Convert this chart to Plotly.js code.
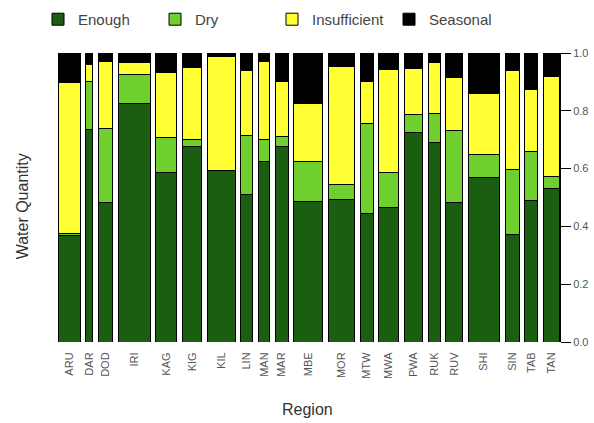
<!DOCTYPE html>
<html><head><meta charset="utf-8">
<script src="https://cdn.plot.ly/plotly-3.0.1.min.js"></script>
<style>html,body{margin:0;padding:0;background:#fff}</style>
</head><body><div id="chart" style="width:594px;height:423px"></div>
<script>
// Regions and relative sample sizes (bar widths)
const regions = ["ARU","DAR","DOD","IRI","KAG","KIG","KIL","LIN","MAN","MAR","MBE","MOR","MTW","MWA","PWA","RUK","RUV","SHI","SIN","TAB","TAN"];
const sampleSize = [22,7,14,32,21,19,28,12,11,13,29,26,13,20,18,12,17,31,14,13,16];
// Proportions per category
const enough       = [0.370,0.734,0.484,0.825,0.586,0.676,0.594,0.510,0.624,0.678,0.486,0.493,0.443,0.465,0.725,0.692,0.482,0.569,0.373,0.488,0.531];
const dry          = [0.005,0.169,0.254,0.101,0.121,0.025,0.000,0.203,0.075,0.033,0.137,0.053,0.314,0.121,0.063,0.099,0.251,0.081,0.225,0.171,0.043];
const insufficient = [0.523,0.058,0.234,0.041,0.225,0.248,0.393,0.228,0.270,0.192,0.202,0.406,0.143,0.358,0.158,0.176,0.182,0.210,0.340,0.213,0.346];
const seasonal     = [0.102,0.039,0.028,0.033,0.068,0.051,0.013,0.059,0.031,0.097,0.175,0.048,0.100,0.056,0.054,0.033,0.085,0.140,0.062,0.128,0.080];
const yTickVals = [0,0.2,0.4,0.6,0.8,1.0];
const seriesNames = ["Enough","Dry","Insufficient","Seasonal"];
const seriesColors = ["#1b5e12","#6fcf2e","#ffff33","#000000"];

// Layout constants
const gap = 5.65;
const leftPad = 3.3, rightPad = 0.7;

const centers = [];
let pos = 0;
sampleSize.forEach((w, i) => {
  centers.push(pos + w / 2);
  pos += w + gap;
});
const xEnd = pos - gap;

const seriesData = [enough, dry, insufficient, seasonal];
const traces = seriesData.map((vals, k) => ({
  type: "bar",
  name: seriesNames[k],
  x: centers,
  y: vals,
  width: sampleSize,
  marker: {color: seriesColors[k], line: {color: "#000", width: 1}},
  hoverinfo: "skip"
}));

const font = "Liberation Sans, Arial, Helvetica, sans-serif";
const layout = {
  width: 594, height: 423,
  margin: {l: 55, r: 34, t: 53, b: 81, pad: 0},
  barmode: "stack",
  bargap: 0,
  paper_bgcolor: "#fff", plot_bgcolor: "#fff",
  font: {family: font, color: "#333"},
  showlegend: true,
  legend: {
    orientation: "h", xref: "container", yref: "container",
    x: 0.064, y: 0.993, xanchor: "left", yanchor: "top",
    entrywidth: 72, traceorder: "normal",
    font: {family: font, size: 15, color: "#444"}
  },
  xaxis: {
    range: [-leftPad, xEnd + rightPad],
    tickmode: "array", tickvals: centers, ticktext: regions,
    tickangle: -90, ticks: "outside", ticklen: 5, tickcolor: "rgba(0,0,0,0)",
    tickfont: {family: font, size: 11, color: "#555"},
    showline: false, showgrid: false, zeroline: false, automargin: false, fixedrange: true
  },
  yaxis: {
    range: [0, 1], side: "right",
    tickmode: "array", tickvals: yTickVals, tickformat: ".1f",
    ticks: "outside", ticklen: 10, tickcolor: "#000", tickwidth: 1,
    showline: true, linecolor: "#000", linewidth: 1,
    tickfont: {family: font, size: 11, color: "#555"},
    showgrid: false, zeroline: false, automargin: false, fixedrange: true
  },
  annotations: [
    {text: "Region", xref: "paper", yref: "paper", x: 0.5, y: -0.235, xanchor: "center", yanchor: "middle",
     showarrow: false, font: {family: font, size: 16, color: "#333"}},
    {text: "Water Quantity", xref: "paper", yref: "paper", x: -0.065, y: 0.47, xanchor: "center", yanchor: "middle",
     textangle: -90, showarrow: false, font: {family: font, size: 16, color: "#333"}}
  ]
};

Plotly.newPlot("chart", traces, layout, {displayModeBar: false, staticPlot: true});
</script></body></html>
